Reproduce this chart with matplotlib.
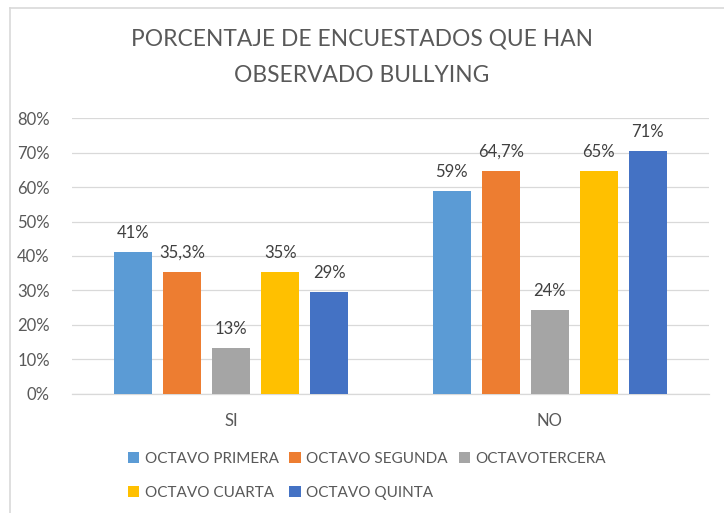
import numpy as np
import matplotlib.pyplot as plt
from matplotlib.lines import Line2D

categories = ['SI', 'NO']
series_names = ['OCTAVO PRIMERA', 'OCTAVO SEGUNDA', 'OCTAVOTERCERA',
                'OCTAVO CUARTA', 'OCTAVO QUINTA']
values = [
    [41.2, 58.8],   # OCTAVO PRIMERA
    [35.3, 64.7],   # OCTAVO SEGUNDA
    [13.3, 24.4],   # OCTAVOTERCERA
    [35.3, 64.7],   # OCTAVO CUARTA
    [29.4, 70.6],   # OCTAVO QUINTA
]
labels = [
    ['41%', '59%'],
    ['35,3%', '64,7%'],
    ['13%', '24%'],
    ['35%', '65%'],
    ['29%', '71%'],
]
colors = ['#5B9BD5', '#ED7D31', '#A5A5A5', '#FFC000', '#4472C4']
yticks = [0, 10, 20, 30, 40, 50, 60, 70, 80]

plt.rcParams['font.family'] = ['Lato', 'DejaVu Sans']
txt = '#595959'

fig = plt.figure(figsize=(7.24, 5.13), dpi=100)
ax = fig.add_axes([72 / 724, 119.3 / 513, 637 / 724, 275.4 / 513])

x = np.arange(len(categories))
width = 0.119
pitch = 0.154
bars = []
for i, name in enumerate(series_names):
    pos = x + (i - 2) * pitch
    b = ax.bar(pos, values[i], width, color=colors[i], label=name, zorder=3)
    bars.append(b)
    for rect, lab in zip(b, labels[i]):
        ax.annotate(lab, (rect.get_x() + rect.get_width() / 2, rect.get_height()),
                    xytext=(0, 8), textcoords='offset points',
                    ha='center', va='bottom', fontsize=12, color='#404040')

ax.set_xlim(-0.5, 1.5)
ax.set_ylim(0, 80)
ax.set_yticks(yticks)
ax.set_yticklabels([f'{v}%' for v in yticks])
ax.set_xticks(x)
ax.set_xticklabels(categories)
ax.tick_params(axis='both', length=0, labelsize=12, labelcolor=txt)
ax.tick_params(axis='y', pad=16)
ax.tick_params(axis='x', pad=14)
ax.grid(axis='y', color='#D9D9D9', linewidth=0.9, zorder=0)
for s in ['top', 'right', 'left']:
    ax.spines[s].set_visible(False)
ax.spines['bottom'].set_color('#D9D9D9')
ax.spines['bottom'].set_linewidth(0.9)

fig.text(0.5, 1 - 39 / 513, 'PORCENTAJE DE ENCUESTADOS QUE HAN', ha='center',
         va='center', fontsize=16.4, color=txt)
fig.text(0.5, 1 - 76 / 513, 'OBSERVADO BULLYING', ha='center',
         va='center', fontsize=16.4, color=txt)

order = [0, 3, 1, 4, 2]
leg = fig.legend([bars[i] for i in order], [series_names[i] for i in order],
                 ncol=3, loc='center', bbox_to_anchor=(367 / 724, 1 - 476 / 513),
                 frameon=False, fontsize=11, handlelength=0.75, handleheight=0.75,
                 handletextpad=0.35, columnspacing=0.7, labelspacing=1.3)
for t in leg.get_texts():
    t.set_color(txt)

# chart border (top and left edges visible)
fig.add_artist(Line2D([10 / 724, 1], [1 - 7.5 / 513] * 2, transform=fig.transFigure,
                      color='#D9D9D9', linewidth=1.2))
fig.add_artist(Line2D([10 / 724] * 2, [0, 1 - 7.5 / 513], transform=fig.transFigure,
                      color='#D9D9D9', linewidth=1.2))

fig.savefig('out.png', dpi=100)
